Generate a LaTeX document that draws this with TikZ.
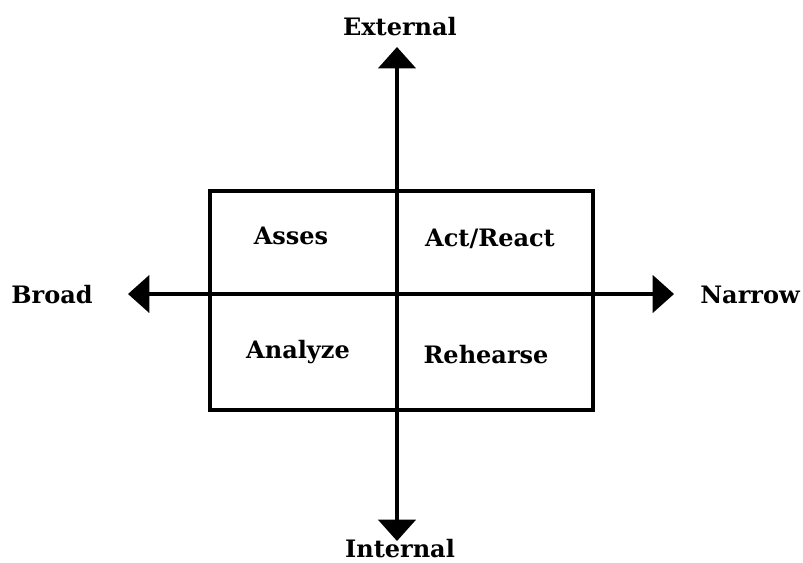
\documentclass[tikz,border=0pt]{standalone}
\usepackage{fontspec}
\setmainfont{DejaVu Serif}
\usetikzlibrary{arrows.meta}
\tikzset{
  lbl/.style={font=\bfseries\fontsize{18pt}{20pt}\selectfont, inner sep=0pt},
  axis/.style={line width=2.5pt, -{Triangle[width=28pt,length=16pt]}},
  frame/.style={line width=2.5pt}
}
\begin{document}
\begin{tikzpicture}[x=0.75pt,y=-0.75pt]
\useasboundingbox (0,0) rectangle (803,562);
\coordinate (top) at (397,47);
\coordinate (bot) at (397,541);
\coordinate (lft) at (128,294);
\coordinate (rgt) at (674,294);
\coordinate (ctr) at (397,294);
\draw[frame] (210,191) rectangle (593,410);
\draw[axis] (ctr) -- (top);
\draw[axis] (ctr) -- (bot);
\draw[axis] (ctr) -- (lft);
\draw[axis] (ctr) -- (rgt);
\node[lbl] (ext) at (400,27) {External};
\node[lbl] (int) at (400,549) {Internal};
\node[lbl] (brd) at (52,295) {Broad};
\node[lbl] (nar) at (750,295) {Narrow};
\node[lbl] (ass) at (291,236) {Asses};
\node[lbl] (act) at (490,239) {Act/React};
\node[lbl] (ana) at (298,352) {Analyze};
\node[lbl] (reh) at (486,355) {Rehearse};
\end{tikzpicture}
\end{document}
